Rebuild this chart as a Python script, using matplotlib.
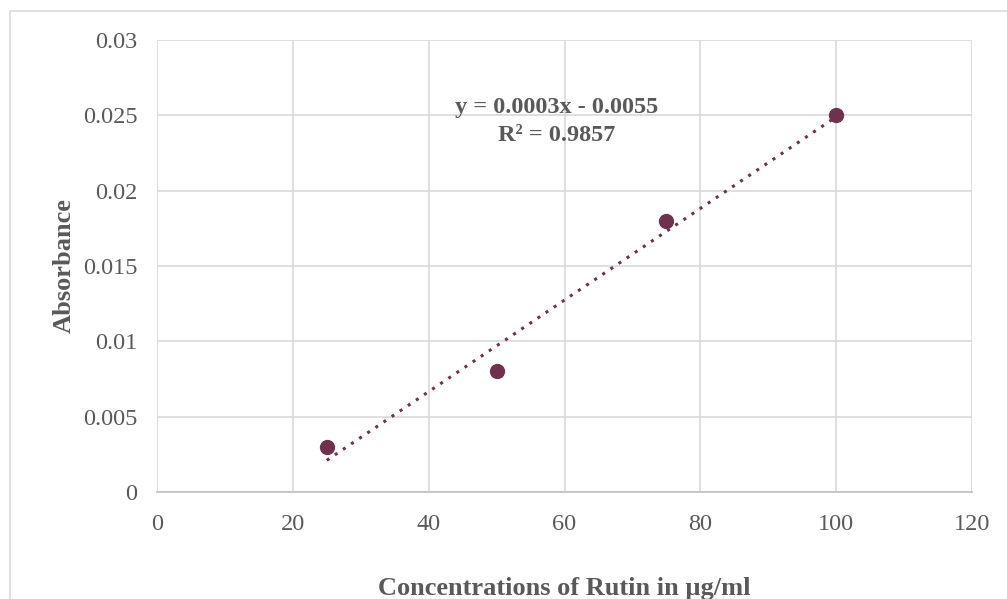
import numpy as np
import matplotlib.pyplot as plt
from matplotlib.patches import Rectangle

# Rutin calibration data
conc = [25, 50, 75, 100]
absorbance = [0.003, 0.008, 0.018, 0.025]
x_ticks = [0, 20, 40, 60, 80, 100, 120]
y_ticks = [0, 0.005, 0.01, 0.015, 0.02, 0.025, 0.03]
y_tick_labels = ['0', '0.005', '0.01', '0.015', '0.02', '0.025', '0.03']

point_color = '#70314F'
text_color = '#595959'

plt.rcParams['font.family'] = ['Liberation Serif', 'DejaVu Serif']

fig = plt.figure(figsize=(10.07, 5.99), dpi=100)
ax = fig.add_axes([157 / 1007, 1 - 492 / 599, 815 / 1007, 452 / 599])

# outer chart border
fig.patches.append(Rectangle((10 / 1007, -0.1), 1.2, 1 - 11 / 599 + 0.1,
                             transform=fig.transFigure, fill=False,
                             edgecolor='#D9D9D9', linewidth=1.2))

# linear trendline
slope, intercept = np.polyfit(conc, absorbance, 1)
xs = np.array([conc[0], conc[-1]])
ax.plot(xs, slope * xs + intercept, linestyle=(0, (1, 2.2)), color=point_color,
        linewidth=2.2, zorder=2)

ax.scatter(conc, absorbance, s=100, color=point_color, zorder=3)

ax.text(58.9, 0.02555, 'y = 0.0003x - 0.0055', ha='center', va='center',
        fontsize=17.5, fontweight='bold', color=text_color)
ax.text(58.9, 0.02365, 'R² = 0.9857', ha='center', va='center',
        fontsize=17.5, fontweight='bold', color=text_color)

ax.set_xlim(0, 120)
ax.set_ylim(0, 0.03)
ax.set_xticks(x_ticks)
ax.set_yticks(y_ticks)
ax.set_yticklabels(y_tick_labels)
ax.tick_params(length=0, labelsize=17.5, labelcolor=text_color, pad=14)
ax.tick_params(axis='x', pad=16)
ax.grid(True, color='#D9D9D9', linewidth=1.2)
ax.set_axisbelow(True)
for side in ['top', 'right', 'left']:
    ax.spines[side].set_visible(False)
ax.spines['bottom'].set_color('#BFBFBF')
ax.spines['bottom'].set_linewidth(1.2)

ax.set_xlabel('Concentrations of Rutin in µg/ml', fontsize=19, fontweight='bold',
              color=text_color, labelpad=30)
ax.set_ylabel('Absorbance', fontsize=19, fontweight='bold', color=text_color,
              labelpad=5)

fig.savefig('out.png', dpi=100)
